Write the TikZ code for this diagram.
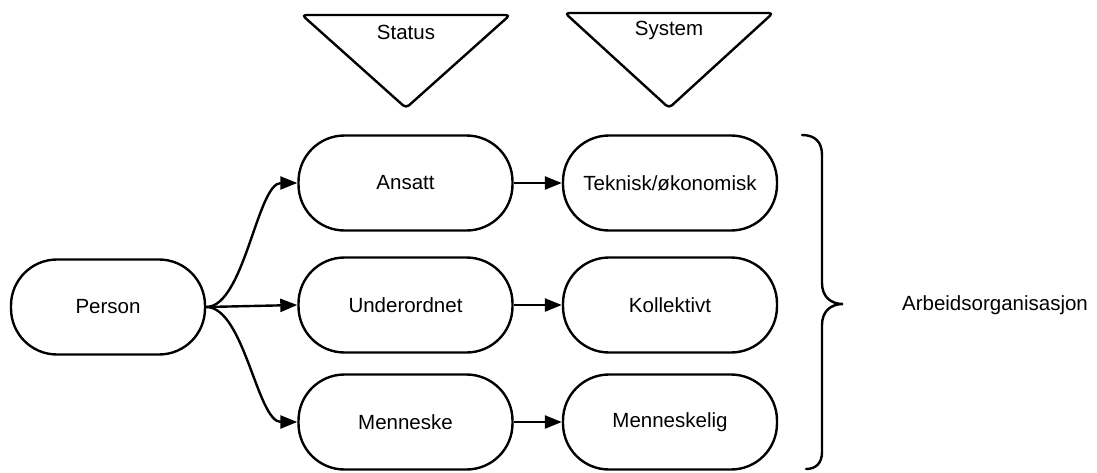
\documentclass[tikz,border=0pt]{standalone}
\usepackage{fontspec}
\setmainfont{Liberation Sans}
\usetikzlibrary{arrows.meta}
\begin{document}
\begin{tikzpicture}[x=1pt,y=-1pt,
  pill/.style={draw=black, line width=2.4pt, fill=white, rounded corners=46pt,
    minimum width=214pt, minimum height=95pt, inner sep=0pt,
    font=\fontsize{20.5}{24}\selectfont},
  lbl/.style={inner sep=0pt, font=\fontsize{20.5}{24}\selectfont},
  conn/.style={draw=black, line width=2.4pt, -{Triangle[length=17pt,width=13pt]}},
  shapeline/.style={draw=black, line width=2.4pt, line join=round, rounded corners=4pt}]
\useasboundingbox (0,0) rectangle (1097,472);
% nodes
\node[pill, minimum width=194pt] (person) at (108,307) {Person};
\node[pill] (ansatt) at (405.5,183) {Ansatt};
\node[pill] (under) at (405.5,305) {Underordnet};
\node[pill] (menn) at (405.5,422) {Menneske};
\node[pill] (tek) at (670,183) {Teknisk/økonomisk};
\node[pill] (koll) at (670,305) {Kollektivt};
\node[pill] (mlig) at (670,422) {Menneskelig};
% triangles
\coordinate (s1) at (302,15); \coordinate (s2) at (510,15); \coordinate (s3) at (406,108);
\coordinate (y1) at (565,13); \coordinate (y2) at (773,13); \coordinate (y3) at (669,108);
\draw[shapeline] (s1) -- (s2) -- (s3) -- cycle;
\draw[shapeline] (y1) -- (y2) -- (y3) -- cycle;
\node[lbl] (status) at (406,32) {Status};
\node[lbl] (system) at (669,30) {System};
% connectors
\draw[conn] (person.east) .. controls +(38,0) and +(-40,0) .. (ansatt.west);
\draw[conn] (person.east) -- (under.west);
\draw[conn] (person.east) .. controls +(38,0) and +(-40,0) .. (menn.west);
\draw[conn] (ansatt.east) -- (tek.west);
\draw[conn] (under.east) -- (koll.west);
\draw[conn] (menn.east) -- (mlig.west);
% brace
\coordinate (b0) at (802,135);
\coordinate (bt) at (843,304);
\coordinate (b1) at (806,469);
\draw[draw=black, line width=2.4pt, line cap=round]
  (b0) .. controls (815,135) and (822,142) .. (822,155)
  -- (822,283) .. controls (822,296) and (830,304) .. (bt)
  .. controls (830,304) and (822,312) .. (822,325)
  -- (822,452) .. controls (822,463) and (816,469) .. (b1);
\node[lbl] (arb) at (995,305) {Arbeidsorganisasjon};
\end{tikzpicture}
\end{document}
